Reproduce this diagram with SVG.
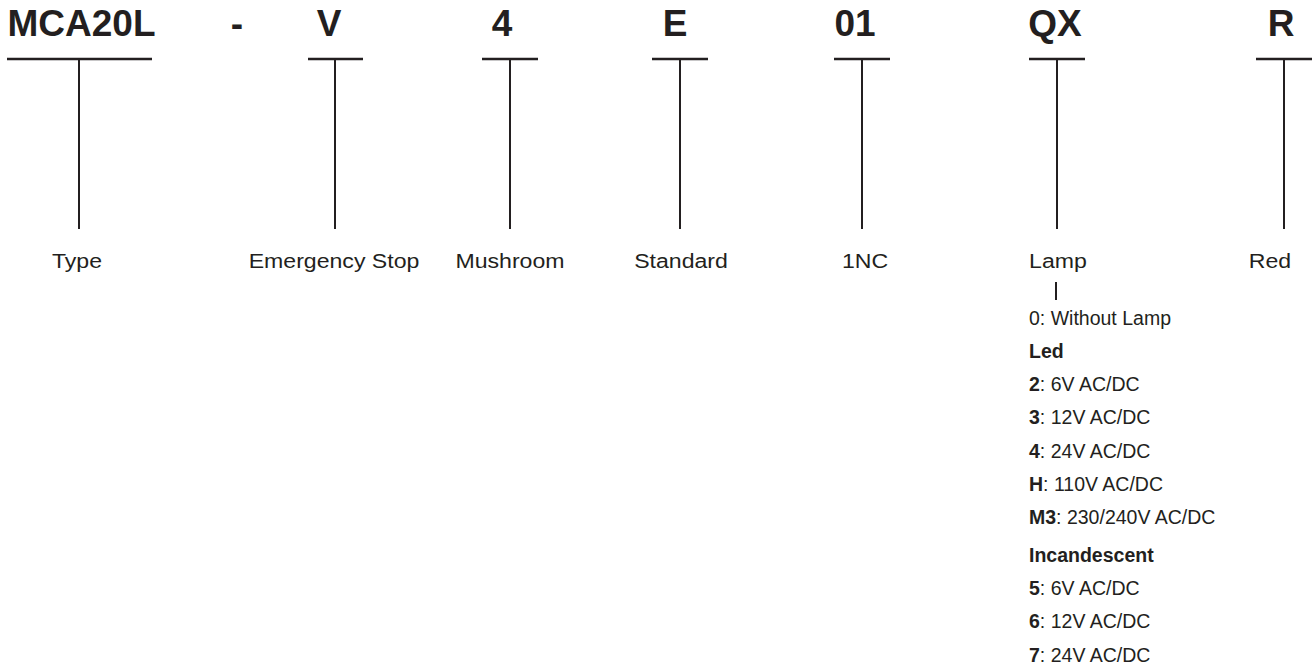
<svg xmlns="http://www.w3.org/2000/svg" width="1314" height="671" viewBox="0 0 1314 671">
<style>
.code{font-family:"Liberation Sans",Arial,sans-serif;font-weight:bold;font-size:37px;fill:#231f20;text-anchor:middle}
.lbl{font-family:"Liberation Sans",Arial,sans-serif;font-size:21px;fill:#231f20;text-anchor:middle}
.lst{font-family:"Liberation Sans",Arial,sans-serif;font-size:19.5px;fill:#231f20}
.b{font-weight:bold}
.bar{stroke:#231f20;stroke-width:2.5;fill:none}
.stem{stroke:#231f20;stroke-width:2;fill:none}
</style>
<rect width="1314" height="671" fill="#ffffff"/>
<g id="connectors">
<line class="bar" x1="7" y1="59" x2="152" y2="59"/>
<line class="stem" x1="79" y1="59" x2="79" y2="229"/>
<line class="bar" x1="308" y1="59" x2="363" y2="59"/>
<line class="stem" x1="335" y1="59" x2="335" y2="229"/>
<line class="bar" x1="482" y1="59" x2="538" y2="59"/>
<line class="stem" x1="510" y1="59" x2="510" y2="229"/>
<line class="bar" x1="652" y1="59" x2="708" y2="59"/>
<line class="stem" x1="680" y1="59" x2="680" y2="229"/>
<line class="bar" x1="834" y1="59" x2="890" y2="59"/>
<line class="stem" x1="862" y1="59" x2="862" y2="229"/>
<line class="bar" x1="1029" y1="59" x2="1085" y2="59"/>
<line class="stem" x1="1057" y1="59" x2="1057" y2="229"/>
<line class="bar" x1="1256" y1="59" x2="1312" y2="59"/>
<line class="stem" x1="1284" y1="59" x2="1284" y2="229"/>
<line class="stem" x1="1056" y1="282" x2="1056" y2="300"/>
</g>
<g id="node-type">
<text class="code" x="81.5" y="36">MCA20L</text>
<text class="lbl" transform="translate(77,268) scale(1.1,1)">Type</text>
</g>
<g id="node-dash">
<text class="code" x="237" y="36">-</text>
</g>
<g id="node-v">
<text class="code" x="329" y="36">V</text>
<text class="lbl" transform="translate(334,268) scale(1.1,1)">Emergency Stop</text>
</g>
<g id="node-4">
<text class="code" x="502" y="36">4</text>
<text class="lbl" transform="translate(510,268) scale(1.1,1)">Mushroom</text>
</g>
<g id="node-e">
<text class="code" x="675" y="36">E</text>
<text class="lbl" transform="translate(681,268) scale(1.1,1)">Standard</text>
</g>
<g id="node-01">
<text class="code" x="855" y="36">01</text>
<text class="lbl" transform="translate(865,268) scale(1.1,1)">1NC</text>
</g>
<g id="node-qx">
<text class="code" x="1055" y="36">QX</text>
<text class="lbl" transform="translate(1058,268) scale(1.1,1)">Lamp</text>
</g>
<g id="node-r">
<text class="code" x="1281" y="36">R</text>
<text class="lbl" transform="translate(1270,268) scale(1.1,1)">Red</text>
</g>
<g id="lamp-options">
<text class="lst" x="1029" y="325">0: Without Lamp</text>
<text class="lst b" x="1029" y="358">Led</text>
<text class="lst" x="1029" y="391"><tspan class="b">2</tspan>: 6V AC/DC</text>
<text class="lst" x="1029" y="424"><tspan class="b">3</tspan>: 12V AC/DC</text>
<text class="lst" x="1029" y="458"><tspan class="b">4</tspan>: 24V AC/DC</text>
<text class="lst" x="1029" y="491"><tspan class="b">H</tspan>: 110V AC/DC</text>
<text class="lst" x="1029" y="524"><tspan class="b">M3</tspan>: 230/240V AC/DC</text>
<text class="lst b" x="1029" y="562">Incandescent</text>
<text class="lst" x="1029" y="595"><tspan class="b">5</tspan>: 6V AC/DC</text>
<text class="lst" x="1029" y="628"><tspan class="b">6</tspan>: 12V AC/DC</text>
<text class="lst" x="1029" y="662"><tspan class="b">7</tspan>: 24V AC/DC</text>
</g>
</svg>
